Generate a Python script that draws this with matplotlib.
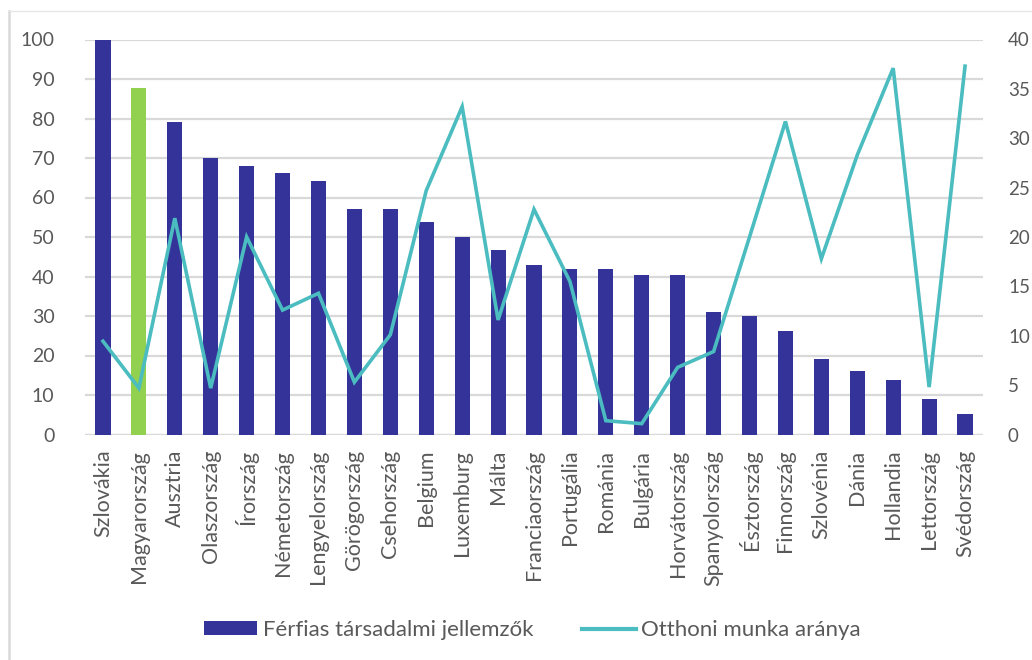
import matplotlib
matplotlib.use("Agg")
import matplotlib.pyplot as plt
from matplotlib.lines import Line2D
from matplotlib.patches import Patch

countries = ["Szlovákia", "Magyarország", "Ausztria", "Olaszország", "Írország",
             "Németország", "Lengyelország", "Görögország", "Csehország", "Belgium",
             "Luxemburg", "Málta", "Franciaország", "Portugália", "Románia",
             "Bulgária", "Horvátország", "Spanyolország", "Észtország", "Finnország",
             "Szlovénia", "Dánia", "Hollandia", "Lettország", "Svédország"]
masculine = [100, 87.8, 79.2, 70.0, 67.9, 66.2, 64.1, 57.1, 57.1, 53.8,
             50.0, 46.8, 43.0, 42.0, 42.0, 40.3, 40.3, 31.1, 30.1, 26.3,
             19.2, 16.0, 13.9, 9.0, 5.2]
home_work = [9.45, 4.7, 21.9, 4.7, 20.0, 12.6, 14.3, 5.3, 10.1, 24.7,
             33.2, 11.6, 22.8, 15.5, 1.4, 1.1, 6.8, 8.4, 20.0, 31.7,
             17.8, 28.3, 37.1, 4.8, 37.3]
left_ticks = list(range(0, 101, 10))
right_ticks = list(range(0, 41, 5))
highlight = "Magyarország"

bar_label = "Férfias társadalmi jellemzők"
line_label = "Otthoni munka aránya"

BLUE = "#333399"
GREEN = "#92D050"
TEAL = "#4BBCBF"
GRID = "#D9D9D9"
TEXT = "#595959"

plt.rcParams["font.family"] = ["Lato", "DejaVu Sans"]

W, H = 1032, 660
fig = plt.figure(figsize=(W / 100, H / 100), dpi=100)
ax = fig.add_axes([85 / W, 1 - 434.5 / H, (983 - 85) / W, (434.5 - 39.5) / H])

n = len(countries)
x = list(range(n))
colors = [GREEN if c == highlight else BLUE for c in countries]
ax.bar(x, masculine, width=0.42, color=colors, zorder=2)
ax.set_xlim(-0.5, n - 0.5)
ax.set_ylim(0, 100)
ax.set_yticks(left_ticks)
ax.yaxis.grid(True, color=GRID, linewidth=1.6, zorder=0)
ax.set_axisbelow(True)
for s in ax.spines.values():
    s.set_visible(False)
ax.axhline(0, color=GRID, linewidth=1.6, zorder=1)
ax.tick_params(axis="y", length=0, pad=22, labelsize=14, labelcolor=TEXT)
ax.set_xticks(x)
ax.set_xticklabels(countries, rotation=90, fontsize=15.5, color=TEXT)
ax.tick_params(axis="x", length=0, pad=11)

ax2 = ax.twinx()
ax2.plot(x, home_work, color=TEAL, linewidth=2.6, zorder=3, solid_joinstyle="miter")
ax2.set_ylim(0, 40)
ax2.set_yticks(right_ticks)
for s in ax2.spines.values():
    s.set_visible(False)
ax2.tick_params(axis="y", length=0, pad=18, labelsize=13.5, labelcolor=TEXT)

handles = [Patch(facecolor=BLUE, label=bar_label),
           Line2D([0], [0], color=TEAL, linewidth=3, label=line_label)]
fig.legend(handles=handles, loc="center", bbox_to_anchor=(0.516, 1 - 630 / H),
           ncol=2, frameon=False, fontsize=16, labelcolor=TEXT,
           handlelength=2.4, handleheight=0.6, handletextpad=0.25, columnspacing=2.2)

# light frame around the chart area
fig.add_artist(Line2D([8.5 / W, 8.5 / W], [0, 1 - 11 / H], transform=fig.transFigure,
                      color="#D9D9D9", linewidth=1.8))
fig.add_artist(Line2D([8.5 / W, 1], [1 - 11 / H, 1 - 11 / H], transform=fig.transFigure,
                      color="#E6E6E6", linewidth=1.0))

fig.savefig("out.png", dpi=100)
